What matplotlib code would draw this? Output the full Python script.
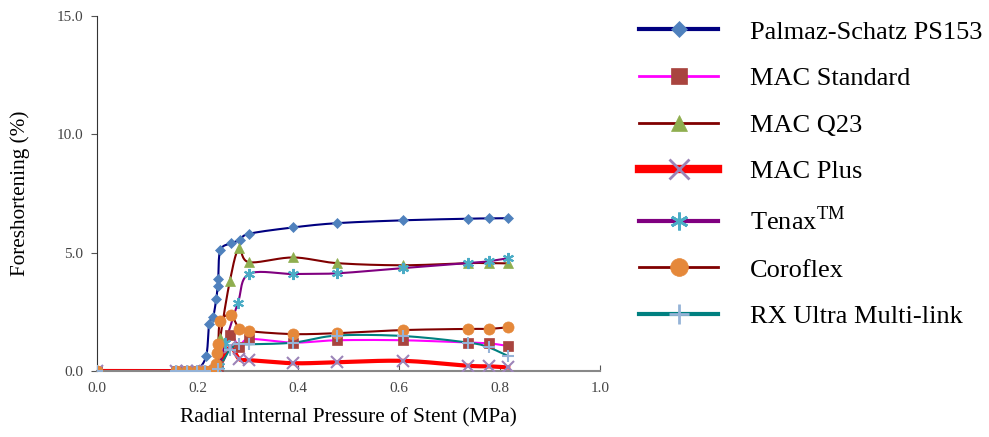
import numpy as np
import matplotlib.pyplot as plt
from matplotlib.lines import Line2D

# pressure (MPa) and foreshortening (%)
pal_x = [0, 0.157, 0.179, 0.199, 0.217, 0.223, 0.231, 0.237, 0.240, 0.241, 0.245, 0.266, 0.284, 0.302, 0.390, 0.477, 0.608, 0.738, 0.778, 0.817]
pal_y = [0, 0, 0, 0.05, 0.63, 1.98, 2.3, 3.04, 3.6, 3.9, 5.1, 5.4, 5.53, 5.8, 6.07, 6.25, 6.37, 6.44, 6.45, 6.46]

std_x = [0, 0.157, 0.179, 0.199, 0.215, 0.240, 0.264, 0.283, 0.302, 0.390, 0.477, 0.608, 0.738, 0.778, 0.817]
std_y = [0, 0, 0, 0, 0, 0.2, 1.52, 1.0, 1.35, 1.2, 1.3, 1.3, 1.2, 1.17, 1.06]

q23_x = [0, 0.157, 0.179, 0.199, 0.215, 0.238, 0.245, 0.264, 0.282, 0.302, 0.390, 0.477, 0.608, 0.738, 0.778, 0.817]
q23_y = [0, 0, 0, 0, 0, 0.1, 1.4, 3.8, 5.19, 4.6, 4.8, 4.56, 4.47, 4.56, 4.56, 4.55]

plus_x = [0, 0.157, 0.179, 0.199, 0.215, 0.240, 0.264, 0.283, 0.302, 0.390, 0.477, 0.608, 0.738, 0.778, 0.817]
plus_y = [0, 0, 0, 0, 0, 0.1, 1.0, 0.5, 0.46, 0.33, 0.37, 0.43, 0.22, 0.2, 0.15]

tenax_x = [0, 0.157, 0.179, 0.199, 0.215, 0.232, 0.242, 0.255, 0.280, 0.302, 0.390, 0.477, 0.608, 0.738, 0.778, 0.817]
tenax_y = [0, 0, 0, 0, 0, 0.05, 0.2, 1.2, 2.87, 4.1, 4.1, 4.13, 4.35, 4.56, 4.64, 4.77]

cor_x = [0, 0.157, 0.179, 0.199, 0.215, 0.225, 0.232, 0.237, 0.238, 0.241, 0.245, 0.266, 0.283, 0.302, 0.390, 0.477, 0.608, 0.738, 0.778, 0.817]
cor_y = [0, 0, 0, 0, 0, 0.02, 0.1, 0.3, 0.75, 1.14, 2.1, 2.36, 1.77, 1.68, 1.56, 1.6, 1.73, 1.78, 1.78, 1.85]

rx_x = [0, 0.157, 0.179, 0.199, 0.215, 0.240, 0.264, 0.283, 0.302, 0.390, 0.477, 0.608, 0.738, 0.778, 0.817]
rx_y = [0, 0, 0, 0, 0, 0.1, 0.9, 1.13, 1.13, 1.2, 1.5, 1.48, 1.2, 1.0, 0.63]

labels = ['Palmaz-Schatz PS153', 'MAC Standard', 'MAC Q23', 'MAC Plus',
          r'Tenax$^{\mathrm{TM}}$', 'Coroflex', 'RX Ultra Multi-link']


def smooth(x, y, sx=503.0, sy=23.7, n=20):
    """Excel-like smoothed line: Bezier segments with Catmull-Rom control points."""
    p = np.column_stack([np.asarray(x) * sx, np.asarray(y) * sy])
    out = [p[0]]
    t = np.linspace(0, 1, n)[1:, None]
    for i in range(len(p) - 1):
        p0 = p[max(i - 1, 0)]
        p1, p2 = p[i], p[i + 1]
        p3 = p[min(i + 2, len(p) - 1)]
        c1 = p1 + (p2 - p0) / 6.0
        c2 = p2 - (p3 - p1) / 6.0
        seg = ((1 - t) ** 3) * p1 + 3 * ((1 - t) ** 2) * t * c1 + 3 * (1 - t) * t ** 2 * c2 + t ** 3 * p2
        out.extend(seg)
    out = np.array(out)
    return out[:, 0] / sx, out[:, 1] / sy


series = [
    (pal_x, pal_y, '#000080', 1.5, 3.0, 'D', '#4F81BD', 5),
    (std_x, std_y, '#FF00FF', 1.5, 2.0, 's', '#A9443F', 7),
    (q23_x, q23_y, '#800000', 1.5, 2.0, '^', '#8FAE4F', 7),
    (plus_x, plus_y, '#FF0000', 3.0, 6.0, 'x', '#9C84B8', 9),
    (tenax_x, tenax_y, '#800080', 1.5, 3.0, (6, 2, 0), '#4BACC6', 8),
    (cor_x, cor_y, '#800000', 1.5, 2.0, 'o', '#E5883A', 8),
    (rx_x, rx_y, '#008080', 1.5, 3.0, '+', '#95B3D7', 9),
]

plt.rcParams['font.family'] = ['Liberation Serif', 'DejaVu Serif']
plt.rcParams['mathtext.fontset'] = 'custom'
plt.rcParams['mathtext.rm'] = 'Liberation Serif'

fig = plt.figure(figsize=(9.89, 4.37), dpi=100)
ax = fig.add_axes([0.098, 0.151, 0.509, 0.812])

handles = []
for sx_, sy_, lc, lw, lw_leg, mk, mc, ms in series:
    xs, ys = smooth(sx_, sy_)
    ax.plot(xs, ys, color=lc, lw=lw, zorder=2)
    ax.plot(sx_, sy_, ls='none', marker=mk, color=mc, mec=mc, ms=ms,
            mew=1.5 if mk in ('x', '+', (6, 2, 0)) else 0.5, zorder=3)
    handles.append(Line2D([], [], color=lc, lw=lw_leg, marker=mk, mfc=mc, mec=mc,
                          ms=ms * 1.6, mew=2 if mk in ('x', '+', (6, 2, 0)) else 0.5))

ax.set_xlim(0, 1.0)
ax.set_ylim(0, 15)
ax.set_xticks(np.arange(0, 1.01, 0.2))
ax.set_yticks([0, 5, 10, 15])
ax.set_xticklabels(['%.1f' % v for v in np.arange(0, 1.01, 0.2)])
ax.set_yticklabels(['%.1f' % v for v in [0, 5, 10, 15]])
ax.tick_params(axis='x', direction='in', length=4, color='#555555', labelcolor='#444444', labelsize=11, pad=8)
ax.tick_params(axis='y', direction='out', length=4, color='#555555', labelcolor='#444444', labelsize=11, pad=6)
for s in ['top', 'right']:
    ax.spines[s].set_visible(False)
ax.spines['bottom'].set_color('#888888')
ax.spines['bottom'].set_linewidth(1.5)
ax.spines['left'].set_color('#333333')
ax.spines['left'].set_linewidth(0.8)

ax.set_xlabel('Radial Internal Pressure of Stent (MPa)', fontsize=15.3, labelpad=9)
ax.set_ylabel('Foreshortening (%)', fontsize=15.3, labelpad=19)

fig.legend(handles, labels, loc='upper left', bbox_to_anchor=(0.633, 0.984),
           frameon=False, fontsize=19, handlelength=3.0, handletextpad=1.2,
           labelspacing=0.875, borderpad=0)

fig.savefig('out.png', dpi=100)
